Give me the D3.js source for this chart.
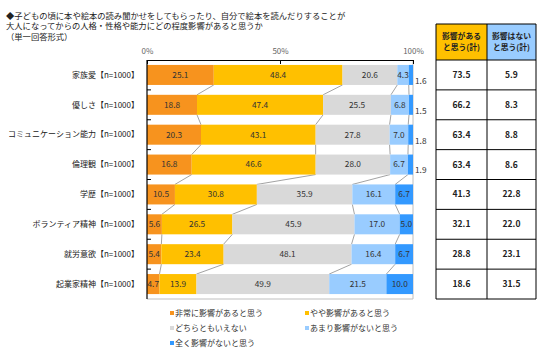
<!DOCTYPE html>
<html><head><meta charset="utf-8">
<script src="https://cdn.jsdelivr.net/npm/d3@7"></script>
<style>
html,body{margin:0;padding:0;background:#fff;}
svg{display:block;font-family:"Noto Sans CJK JP","Noto Sans",sans-serif;}
</style></head>
<body><svg id="c" width="545" height="354"></svg>
<script>
const titleLines = [
  "◆子どもの頃に本や絵本の読み聞かせをしてもらったり、自分で絵本を読んだりすることが",
  "大人になってからの人格・性格や能力にどの程度影響があると思うか",
  "（単一回答形式）"
];
const categories = ["家族愛【n=1000】","優しさ【n=1000】","コミュニケーション能力【n=1000】","倫理観【n=1000】","学歴【n=1000】","ボランティア精神【n=1000】","就労意欲【n=1000】","起業家精神【n=1000】"];
const seriesNames = ["非常に影響があると思う","やや影響があると思う","どちらともいえない","あまり影響がないと思う","全く影響がないと思う"];
const seriesColors = ["#F7931E","#FFC000","#D9D9D9","#99CCFF","#3399FF"];
const s1 = [25.1,18.8,20.3,16.8,10.5,5.6,5.4,4.7];
const s2 = [48.4,47.4,43.1,46.6,30.8,26.5,23.4,13.9];
const s3 = [20.6,25.5,27.8,28.0,35.9,45.9,48.1,49.9];
const s4 = [4.3,6.8,7.0,6.7,16.1,17.0,16.4,21.5];
const s5 = [1.6,1.5,1.8,1.9,6.7,5.0,6.7,10.0];
const tickValues = [0,50,100];
const tickLabels = ["0%","50%","100%"];
const tableHeaders = [["影響がある","と思う(計)"],["影響はない","と思う(計)"]];
const tableColors = ["#FFC000","#99CCFF"];
const totalYes = [73.5,66.2,63.4,63.4,41.3,32.1,28.8,18.6];
const totalNo = [5.9,8.3,8.8,8.6,22.8,22.0,23.1,31.5];

const series = [s1,s2,s3,s4,s5];
const svg = d3.select("#c");

// title
svg.append("g").selectAll("text").data(titleLines).join("text")
  .attr("x",6).attr("y",(d,i)=>18.5+i*10.5)
  .attr("font-size",8.3).attr("fill","#222").text(d=>d);

const x = d3.scaleLinear().domain([0,100]).range([147,413]);
const rows = d3.scaleBand().domain(categories).range([60,299]);
const y = d3.scaleBand().domain(categories).range([60,299]).paddingInner(0.33).paddingOuter(0.165);

// frame (right, bottom)
svg.append("path").attr("d",`M${x(0)},${rows.range()[1]}H${x(100)}V${rows.range()[0]}`)
  .attr("fill","none").attr("stroke","#BFBFBF").attr("stroke-width",1);

// stacked data
const stacked = categories.map((c,i)=>{
  let cum=0;
  return series.map((s,k)=>{const v=s[i]; const o={c,k,v,x0:cum,x1:cum+v,i}; cum+=v; return o;});
});

// connector lines
const conn = [];
for(let i=0;i<categories.length-1;i++){
  for(let k=0;k<4;k++){
    conn.push({x1:x(stacked[i][k].x1),y1:y(categories[i])+y.bandwidth(),x2:x(stacked[i+1][k].x1),y2:y(categories[i+1])});
  }
}
svg.append("g").selectAll("line").data(conn).join("line")
  .attr("x1",d=>d.x1).attr("y1",d=>d.y1).attr("x2",d=>d.x2).attr("y2",d=>d.y2)
  .attr("stroke","#8C8C8C").attr("stroke-width",0.8);

// bars
const segs = stacked.flat();
svg.append("g").selectAll("rect").data(segs).join("rect")
  .attr("x",d=>x(d.x0)).attr("y",d=>y(d.c)).attr("width",d=>x(d.x1)-x(d.x0)).attr("height",y.bandwidth())
  .attr("fill",d=>seriesColors[d.k]);

// labels
svg.append("g").selectAll("text").data(segs).join("text")
  .attr("x",d=>d.v<2? x(100)+2 : (x(d.x0)+x(d.x1))/2)
  .attr("y",d=>y(d.c)+y.bandwidth()/2+(d.v<2?6:0))
  .attr("dy","0.35em")
  .attr("text-anchor",d=>d.v<2?"start":"middle")
  .attr("font-size",8.3).attr("fill","#333")
  .text(d=>d.v.toFixed(1));

// top axis
const ax = d3.axisTop(x).tickValues(tickValues).tickFormat((d,i)=>tickLabels[i]).tickSizeInner(-4).tickSizeOuter(0).tickPadding(6);
const gx = svg.append("g").attr("transform",`translate(0,${rows.range()[0]})`).call(ax);
gx.select(".domain").attr("stroke","#000").attr("stroke-width",1.2);
gx.selectAll(".tick line").attr("stroke","#000");
gx.selectAll("text").attr("font-size",8).attr("fill","#666").attr("font-family","Noto Sans CJK JP");

// left axis
const gy = svg.append("g").attr("transform",`translate(${x(0)},0)`);
gy.append("line").attr("x1",0).attr("x2",0).attr("y1",rows.range()[0]).attr("y2",rows.range()[1]).attr("stroke","#000").attr("stroke-width",1.2);
gy.selectAll("line.t").data(categories.slice(1)).join("line").attr("class","t")
  .attr("x1",0).attr("x2",4).attr("y1",d=>rows(d)).attr("y2",d=>rows(d)).attr("stroke","#000");
gy.selectAll("text").data(categories).join("text")
  .attr("x",-8).attr("y",d=>y(d)+y.bandwidth()/2).attr("dy","0.35em")
  .attr("text-anchor","end").attr("font-size",8).attr("fill","#222").text(d=>d);

// table
const tx = [436,487,536];
const tTop = 24;
const tb = svg.append("g");
tableColors.forEach((col,j)=>{
  tb.append("rect").attr("x",tx[j]).attr("y",tTop).attr("width",tx[j+1]-tx[j]).attr("height",rows.range()[0]-tTop).attr("fill",col);
  tableHeaders[j].forEach((t,l)=>{
    tb.append("text").attr("x",(tx[j]+tx[j+1])/2).attr("y",tTop+15+l*11).attr("text-anchor","middle")
      .attr("font-size",7.8).attr("font-weight","bold").attr("fill","#222").text(t);
  });
});
const tableCols=[totalYes,totalNo];
tableCols.forEach((arr,j)=>{
  tb.selectAll("text.v"+j).data(categories).join("text").attr("class","v"+j)
    .attr("x",(tx[j]+tx[j+1])/2).attr("y",d=>rows(d)+rows.bandwidth()/2).attr("dy","0.35em")
    .attr("text-anchor","middle").attr("font-size",8.5).attr("font-weight","bold").attr("fill","#222")
    .text((d,i)=>arr[i].toFixed(1));
});
// grid lines
const hl=[tTop,...categories.map(c=>rows(c)),rows.range()[1]];
tb.selectAll("line.h").data(hl).join("line").attr("class","h")
  .attr("x1",tx[0]).attr("x2",tx[2]).attr("y1",d=>d).attr("y2",d=>d).attr("stroke","#000").attr("stroke-width",1);
tb.selectAll("line.vv").data(tx).join("line").attr("class","vv")
  .attr("x1",d=>d).attr("x2",d=>d).attr("y1",tTop).attr("y2",rows.range()[1]).attr("stroke","#000").attr("stroke-width",1);

// legend
const legPos = [[170,313],[305,313],[170,328],[305,328],[170,343]];
const lg = svg.append("g");
seriesNames.forEach((n,k)=>{
  lg.append("rect").attr("x",legPos[k][0]).attr("y",legPos[k][1]-2).attr("width",4).attr("height",4).attr("fill",seriesColors[k]);
  lg.append("text").attr("x",legPos[k][0]+5).attr("y",legPos[k][1]).attr("dy","0.35em").attr("font-size",8).attr("fill","#333").text(n);
});
</script></body></html>
